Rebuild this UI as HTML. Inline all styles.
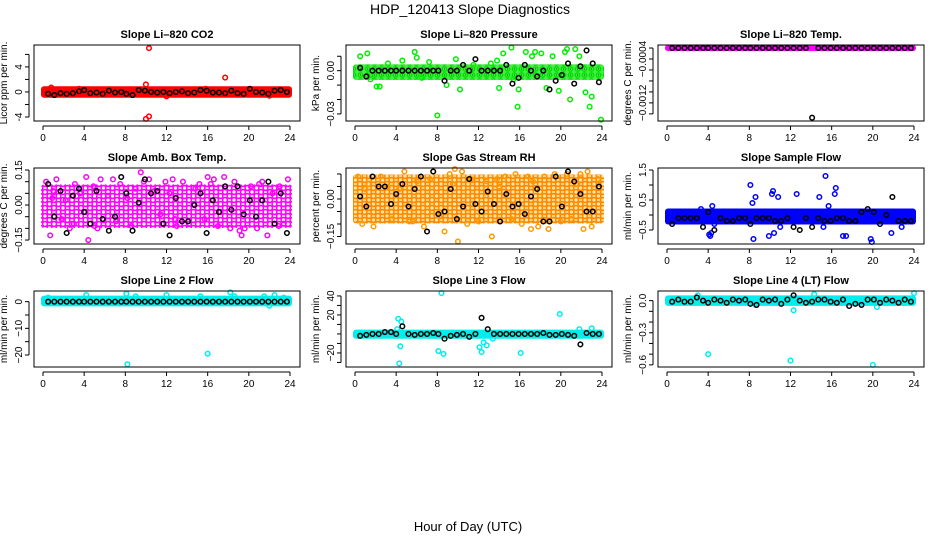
<!DOCTYPE html>
<html><head><meta charset="utf-8"><style>
body{margin:0;background:#fff;}
svg{display:block;font-family:"Liberation Sans",sans-serif;}
</style></head><body>
<svg id="chart" width="936" height="540" viewBox="0 0 936 540" xmlns="http://www.w3.org/2000/svg">
<defs>
<pattern id="pat-green" width="7" height="6" patternUnits="userSpaceOnUse"><rect width="7" height="6" fill="#44ee44"/><circle cx="3.5" cy="3" r="2.2" fill="none" stroke="#00dd00" stroke-width="1.3"/><circle cx="3.5" cy="3" r="0.6" fill="#116611"/></pattern>
<pattern id="pat-magenta" width="9" height="8" patternUnits="userSpaceOnUse"><circle cx="4.5" cy="4" r="2.4" fill="none" stroke="#ff00ff" stroke-width="1.6"/><circle cx="0" cy="0" r="2.4" fill="none" stroke="#ff00ff" stroke-width="1.6"/><circle cx="9" cy="8" r="2.4" fill="none" stroke="#ff00ff" stroke-width="1.6"/><circle cx="0" cy="8" r="2.4" fill="none" stroke="#ff00ff" stroke-width="1.6"/><circle cx="9" cy="0" r="2.4" fill="none" stroke="#ff00ff" stroke-width="1.6"/></pattern>
<pattern id="pat-orange" width="9" height="8" patternUnits="userSpaceOnUse"><rect width="9" height="8" fill="#ffcc44" opacity="0.5"/><circle cx="4.5" cy="4" r="2.4" fill="none" stroke="#ff8800" stroke-width="1.6"/><circle cx="0" cy="0" r="2.4" fill="none" stroke="#ff8800" stroke-width="1.6"/><circle cx="9" cy="8" r="2.4" fill="none" stroke="#ff8800" stroke-width="1.6"/><circle cx="0" cy="8" r="2.4" fill="none" stroke="#ff8800" stroke-width="1.6"/><circle cx="9" cy="0" r="2.4" fill="none" stroke="#ff8800" stroke-width="1.6"/></pattern>
</defs>
<text x="470" y="14" text-anchor="middle" font-size="14">HDP_120413  Slope Diagnostics</text>
<text x="468" y="531" text-anchor="middle" font-size="13">Hour of Day (UTC)</text>
</svg>
<script>
const xTicks=[0,4,8,12,16,20,24];
const blackHours=[0.5,1.1,1.7,2.3,2.9,3.5,4.0,4.6,5.2,5.8,6.4,7.0,7.6,8.1,8.7,9.3,9.9,10.5,11.1,11.7,12.3,12.9,13.5,14.1,14.7,15.3,15.9,16.5,17.1,17.7,18.3,18.9,19.5,20.1,20.7,21.3,21.9,22.5,23.1,23.7];
const titles=["Slope Li\u2013820 CO2","Slope Li\u2013820 Pressure","Slope Li\u2013820 Temp.","Slope Amb. Box Temp.","Slope Gas Stream RH","Slope Sample Flow","Slope Line 2 Flow","Slope Line 3 Flow","Slope Line 4 (LT) Flow"];
const yLabels=["Licor ppm per min.","kPa per min.","degrees C per min.","degrees C per min.","percent per min.","ml/min per min.","ml/min per min.","ml/min per min.","ml/min per min."];
const yRanges=[[-4.64,7.5],[-0.0349,0.0178],[-0.00153,-0.000145],[-0.167,0.1586],[-0.18,0.124],[-0.967,1.567],[-24.5,4.0],[-34.8,45.2],[-0.62,0.09]];
const yTickVals=[[-4,-2,0,2,4,6],[-0.03,-0.02,-0.01,0,0.01],[-0.0014,-0.0012,-0.001,-0.0008,-0.0006,-0.0004,-0.0002],[-0.15,-0.1,-0.05,0,0.05,0.1,0.15],[-0.15,-0.1,-0.05,0,0.05,0.1],[-0.5,0,0.5,1,1.5],[-20,-15,-10,-5,0],[-30,-20,-10,0,10,20,30,40],[-0.6,-0.5,-0.4,-0.3,-0.2,-0.1,0]];
const yTickLabels=[["-4","","0","","4",""],["\u22120.03","","","0.00",""],["","\u22120.0012","","","","\u22120.0004",""],["\u22120.15","","","0.00","","","0.15"],["\u22120.15","","","0.00","",""],["\u22120.5","","0.5","","1.5"],["\u221220","","\u221210","","0"],["","\u221220","","","","20","","40"],["\u22120.6","","","\u22120.3","","","0.0"]];
const colors=["#ff0000","#00ee00","#ff00ff","#ff00ff","#ff9900","#0000ff","#00eeee","#00eeee","#00eeee"];
const bandFills=["#ff0000","url(#pat-green)","#ff00ff","url(#pat-magenta)","url(#pat-orange)","#0000ff","#00eeee","#00eeee","#00eeee"];
const bands=[[-0.6,0.6],[-0.005,0.003],[-0.00022,-0.00018],[-0.09,0.08],[-0.09,0.09],[-0.25,0.15],[-1,1.5],[-3,2.5],[-0.03,0.03]];
const blackVals=[
[-0.3,-0.5,-0.2,-0.3,-0.2,0.1,0.3,-0.2,-0.1,-0.3,0.2,-0.1,0,-0.3,-0.5,0.3,0.2,0,-0.1,0,-0.2,0,0.1,-0.2,-0.1,0.3,0.2,-0.1,-0.1,-0.2,0.2,-0.2,-0.3,0.5,0,-0.1,-0.3,0.2,0.3,0],
[0.002,-0.004,0,0,0,0,0,0,0,0,0,0,0,0,-0.007,0,0,0.004,0,0.008,0,0,0,0,0.004,-0.009,-0.005,0.004,0,-0.004,0,-0.013,-0.007,-0.003,0.005,-0.009,0.003,0.014,0.005,-0.008],
[-0.0002,-0.0002,-0.0002,-0.0002,-0.0002,-0.0002,-0.0002,-0.0002,-0.0002,-0.0002,-0.0002,-0.0002,-0.0002,-0.0002,-0.0002,-0.0002,-0.0002,-0.0002,-0.0002,-0.0002,-0.0002,-0.0002,-0.0002,-0.00147,-0.0002,-0.0002,-0.0002,-0.0002,-0.0002,-0.0002,-0.0002,-0.0002,-0.0002,-0.0002,-0.0002,-0.0002,-0.0002,-0.0002,-0.0002,-0.0002],
[0.09,-0.05,0.06,-0.12,0.04,0.07,-0.03,-0.08,0.06,-0.06,-0.11,-0.05,0.12,0.05,-0.11,0.01,0.11,0.05,0.06,-0.08,-0.13,0.03,-0.07,-0.07,0,0.05,-0.12,0.02,-0.03,0.08,-0.02,0.08,-0.04,0.02,-0.05,0.02,0.1,-0.08,0.05,-0.12],
[0.01,-0.03,0.09,0.05,0.05,-0.02,0.02,0.06,-0.03,0.04,0.09,-0.13,0.11,-0.06,-0.05,0.04,-0.08,-0.03,0.08,-0.02,-0.05,0.03,-0.02,-0.09,0.02,-0.03,-0.02,-0.06,0.01,0.04,-0.09,-0.09,0.09,-0.03,0.11,0.07,0.02,-0.05,-0.05,0.05],
[-0.3,-0.1,-0.1,-0.1,-0.1,-0.4,0.1,-0.5,-0.1,-0.2,-0.2,-0.1,-0.1,-0.3,-0.1,-0.1,-0.1,-0.2,-0.2,-0.1,-0.4,-0.5,-0.1,-0.4,-0.1,-0.2,-0.2,-0.1,-0.1,-0.2,-0.2,0.1,0.2,0.1,-0.3,0.0,0.6,-0.2,-0.2,-0.2],
[0,0,0,0,0,0,0,0,0,0,0,0,0,0,0,0,0,0,0,0,0,0,0,0,0,0,0,0,0,0,0,0,0,0,0,0,0,0,0,0],
[-2,-1,0,0,2,2,0,8,0,-1,0,0,1,0,-5,-2,-1,0,-3,0,17,5,0,0,0,0,0,0,0,0,1,-1,-1,0,-1,-2,-11,1,0,0],
[-0.01,0.01,-0.01,-0.01,0.03,0,-0.02,0.01,0,-0.02,0.01,0,0.01,-0.03,-0.04,0.01,0,0.01,-0.03,0.01,0.05,0,-0.02,-0.01,0.01,0.01,-0.01,-0.02,0.01,-0.05,-0.03,-0.04,0.01,0.01,-0.02,0.01,0,-0.02,0.01,-0.01]
];
const scatterX=[
[10.3,10.0,17.7,10.0,10.3,0.8,3.5,12.0,15.8,22.0],
[0.5,1.2,1.5,2.4,3.2,4.6,5.8,6.0,7.2,8.0,8.9,9.8,10.2,11.5,13.2,14.0,14.4,15.2,15.4,15.8,15.9,16.6,17.2,17.5,18.1,19.2,19.8,20.4,20.6,20.9,21.4,21.8,22.4,22.8,23.0,23.9,2.1,6.5,13.8,18.6],
[],
[0.3,0.7,1.0,1.3,1.8,2.2,2.6,3.1,3.6,4.2,4.4,4.9,5.3,5.6,6.3,6.8,7.1,7.5,8.2,8.6,9.0,9.4,9.8,10.3,10.8,11.4,11.9,12.3,12.6,13.0,13.6,14.2,14.8,15.2,15.7,16.3,16.6,17.0,17.6,18.2,18.6,19.1,19.6,20.2,20.8,21.3,21.8,22.3,22.9,23.4,23.8,0.9,3.0,5.0,9.5,12.8,16.0,19.3,21.0,23.0],
[0.3,0.7,1.3,1.8,2.5,3.2,3.6,4.3,4.8,5.3,6.0,6.7,7.3,7.6,8.2,8.7,9.2,9.7,10.0,10.4,10.9,11.3,12.0,12.8,13.3,14.0,14.6,15.2,15.6,16.2,16.8,17.3,17.8,18.4,18.8,19.4,20.0,20.6,21.0,21.6,22.2,22.6,23.0,23.6,1.0,5.6,9.5,13.8,17.1,21.9],
[4.3,4.1,4.2,4.4,4.6,8.1,8.3,8.6,8.4,9.9,10.2,10.3,10.4,10.8,11.0,14.8,15.2,15.4,15.7,16.3,16.4,17.1,17.4,19.8,19.9,20.0,21.8,12.6,3.3,22.8],
[8.2,16.0,0.5,4.2,8.1,9.0,12.0,15.3,18.2,18.6,21.5,22.0,22.5,23.4],
[8.4,19.9,4.2,4.4,4.5,8.1,8.6,4.3,4.1,12.1,12.3,12.5,12.8,16.1,23.0,13.4,21.8],
[4.0,12.0,20.0,24.0,12.3,14.3,8.6,20.4,3.0]
];
const scatterY=[
[7,1.2,2.3,-4.3,-3.9,0.7,0.5,-0.7,0.5,-0.6],
[0.01,0.012,-0.006,-0.011,0.005,0.007,0.013,0.009,0.006,-0.031,-0.01,0.008,-0.013,0.004,0.005,-0.012,0.012,0.016,-0.006,-0.025,-0.013,0.013,0.01,0.013,0.012,0.01,-0.014,0.013,0.015,-0.02,0.015,0.01,-0.015,-0.025,-0.018,-0.034,-0.011,-0.005,0.007,-0.012],
[],
[0.1,-0.13,0.06,0.11,-0.06,0.02,-0.1,0.09,0.05,0.12,-0.15,0.08,-0.1,0.11,0.04,0.11,-0.07,0.09,0.03,-0.09,0.07,-0.03,0.1,0.11,0.06,-0.04,0.1,0.05,0.11,-0.09,0.1,-0.08,0.07,0.09,-0.06,0.09,0.11,-0.09,0.12,-0.1,0.1,-0.11,-0.1,0.08,-0.1,0.1,-0.13,0.05,-0.09,-0.08,0.11,0.03,-0.08,-0.09,0.14,-0.06,0.12,-0.13,0.09,0.08],
[0.09,-0.1,0.06,-0.11,0.09,0.05,-0.08,0.04,0.11,-0.09,0.07,-0.11,0.08,0.11,-0.07,-0.13,0.1,0.12,-0.17,0.11,-0.1,0.08,-0.09,0.07,-0.15,0.05,0.09,-0.08,0.1,-0.1,0.09,0.07,-0.11,0.09,-0.12,0.1,-0.09,0.1,-0.08,0.06,-0.12,0.11,-0.11,0.08,0.04,-0.09,0.06,0.08,-0.12,0.1],
[-0.6,-0.65,-0.7,0.3,-0.3,1.0,0.4,0.6,-0.8,-0.7,0.7,0.8,-0.6,0.6,-0.4,0.6,-0.4,1.3,0.3,0.7,0.9,-0.7,-0.7,-0.8,-0.9,-0.1,-0.6,0.7,0.2,-0.4],
[-23.5,-19.5,1.5,2.5,3.0,2.0,2.5,2.0,3.5,2.0,2.0,-1.5,2.5,1.5],
[43,21,16,-13,13,-18,-21,-31,5,-14,-19,-9,-12,-20,6,-5,5],
[-0.5,-0.56,-0.6,0.07,-0.09,0.06,-0.04,-0.06,0.05]
];
const colX=[[34,300,43,290],[346,612,355,602],[658,924,667,914]];
const rowY=[[45,121],[168,244],[291,367]];
const svg=document.getElementById('chart');
const NS='http://www.w3.org/2000/svg';
function mk(tag,attrs,parent){const e=document.createElementNS(NS,tag);for(const k in attrs)e.setAttribute(k,attrs[k]);(parent||svg).appendChild(e);return e;}
for(let p=0;p<9;p++){
  const c=colX[p%3],r=rowY[Math.floor(p/3)];
  const [ymin,ymax]=yRanges[p];
  const xs=h=>c[2]+(c[3]-c[2])*h/24;
  const ys=v=>r[1]-(v-ymin)/(ymax-ymin)*(r[1]-r[0]);
  const g=mk('g',{});
  
  
  const t=mk('text',{x:(c[0]+c[1])/2,y:r[0]-7,'text-anchor':'middle','font-size':'11','font-weight':'bold'},g);
  t.textContent=titles[p];
  
  
  const yl=mk('text',{transform:`translate(${c[0]-27},${(r[0]+r[1])/2}) rotate(-90)`,'text-anchor':'middle','font-size':'10'},g);
  yl.textContent=yLabels[p];
  
  
  const b=bands[p];
  const band=mk('rect',{x:xs(0)-2,y:ys(b[1])-2,width:xs(24)-xs(0)+4,height:Math.max(ys(b[0])-ys(b[1])+4,5),rx:3,fill:bandFills[p]},g);
  
  
  for(let i=0;i<scatterX[p].length;i++){
    const pt=mk('circle',{cx:xs(scatterX[p][i]),cy:ys(scatterY[p][i]),r:2.3,fill:'none',stroke:colors[p],'stroke-width':1.5},g);
    
    
  }
  for(let i=0;i<blackHours.length;i++){
    const pt=mk('circle',{cx:xs(blackHours[i]),cy:ys(blackVals[p][i]),r:2.3,fill:'none',stroke:'#000','stroke-width':1.5},g);
    
    
  }
  const box=mk('rect',{x:c[0],y:r[0],width:c[1]-c[0],height:r[1]-r[0],fill:'none',stroke:'#000','stroke-width':1},g);
  
  
  mk('line',{x1:xs(0),x2:xs(24),y1:r[1]+5,y2:r[1]+5,stroke:'#000'},g);
  xTicks.forEach(v=>{
    mk('line',{x1:xs(v),x2:xs(v),y1:r[1]+5,y2:r[1]+9,stroke:'#000'},g);
    const tl=mk('text',{x:xs(v),y:r[1]+20,'text-anchor':'middle','font-size':'10'},g);
    tl.textContent=v;
    
    
  });
  const yt=yTickVals[p];
  mk('line',{x1:c[0]-5,x2:c[0]-5,y1:ys(yt[0]),y2:ys(yt[yt.length-1]),stroke:'#000'},g);
  yt.forEach((v,i)=>{
    mk('line',{x1:c[0]-9,x2:c[0]-5,y1:ys(v),y2:ys(v),stroke:'#000'},g);
    if(yTickLabels[p][i]){
      const tl=mk('text',{transform:`translate(${c[0]-12},${ys(v)}) rotate(-90)`,'text-anchor':'middle','font-size':'10'},g);
      tl.textContent=yTickLabels[p][i];
      
      
    }
  });
}
</script>
</body></html>
